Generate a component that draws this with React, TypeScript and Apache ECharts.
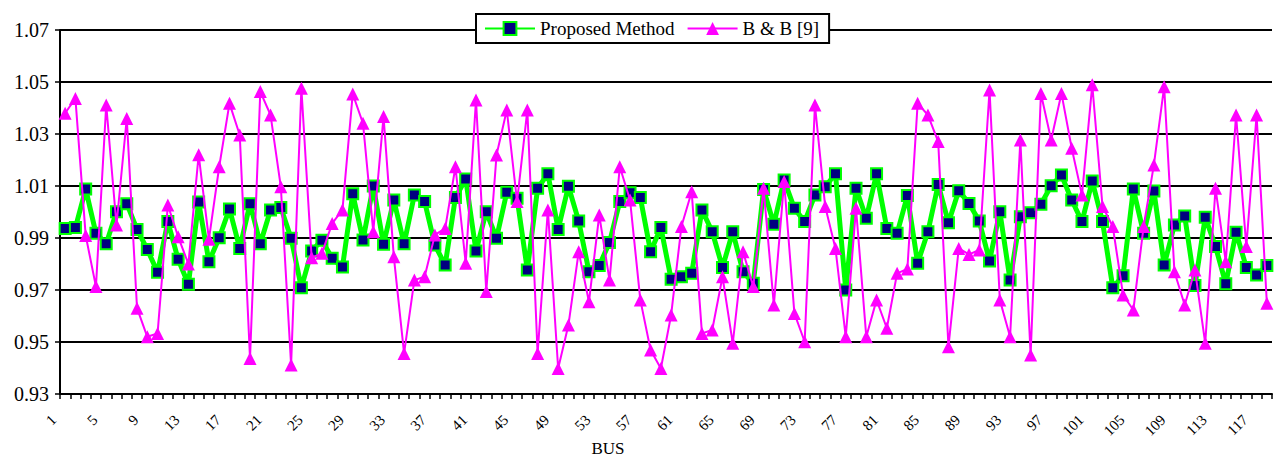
import React, { useEffect, useRef } from "react";
import * as echarts from "echarts";

const categories: string[] = Array.from({ length: 118 }, (_, i) => String(i + 1));

const proposed: number[] = [
  0.9937, 0.994, 1.0088, 0.9918, 0.9878, 1.0001, 1.0032, 0.9933, 0.9856, 0.9768,
  0.9963, 0.9818, 0.9722, 1.0038, 0.9809, 0.9901, 1.0012, 0.986, 1.0032, 0.9878,
  1.0008, 1.0017, 0.9899, 0.9709, 0.985, 0.9891, 0.9822, 0.9788, 1.007, 0.9892,
  1.01, 0.9876, 1.0046, 0.9878, 1.0065, 1.004, 0.9873, 0.9796, 1.0056, 1.0127,
  0.985, 1.0001, 0.9899, 1.0076, 1.0053, 0.9777, 1.0091, 1.0147, 0.9933, 1.0099,
  0.9965, 0.977, 0.9794, 0.9883, 1.004, 1.0074, 1.0056, 0.9847, 0.994, 0.9741,
  0.9751, 0.9764, 1.0008, 0.9924, 0.9787, 0.9924, 0.977, 0.9726, 1.0087, 0.9953,
  1.0123, 1.0014, 0.9963, 1.0065, 1.0097, 1.0147, 0.97, 1.0091, 0.9976, 1.0147,
  0.9937, 0.9918, 1.0063, 0.9803, 0.9924, 1.0106, 0.9959, 1.0082, 1.0033, 0.9965,
  0.9812, 1.0001, 0.9738, 0.9982, 0.9997, 1.003, 1.0101, 1.0142, 1.0046, 0.9963,
  1.0119, 0.9963, 0.9709, 0.9755, 1.0088, 0.9918, 1.0081, 0.9796, 0.995, 0.9985,
  0.9717, 0.998, 0.9867, 0.9724, 0.9922, 0.9787, 0.9758, 0.9794,
];

const bb9: number[] = [
  1.038, 1.0437, 0.991, 0.9713, 1.0412, 0.995, 1.036, 0.963, 0.952, 0.9533,
  1.0027, 0.9905, 0.98, 1.022, 0.9895, 1.0174, 1.0418, 1.0296, 0.9437, 1.0463,
  1.0373, 1.0097, 0.9412, 1.0476, 0.9824, 0.9841, 0.9956, 1.0008, 1.0454, 1.0341,
  0.9924, 1.0367, 0.9828, 0.9456, 0.9738, 0.9751, 0.9912, 0.9937, 1.0174, 0.9803,
  1.0431, 0.9694, 1.0219, 1.0392, 1.004, 1.0392, 0.9456, 1.0008, 0.9398, 0.9565,
  0.9847, 0.9655, 0.9988, 0.9738, 1.0174, 1.0046, 0.9662, 0.9469, 0.9398, 0.9604,
  0.9944, 1.0078, 0.9533, 0.9546, 0.9751, 0.9495, 0.9847, 0.9713, 1.0091, 0.9642,
  1.0117, 0.961, 0.9501, 1.0412, 1.0021, 0.986, 0.952, 1.0014, 0.952, 0.9662,
  0.9553, 0.9764, 0.9781, 1.0418, 1.0373, 1.0271, 0.9482, 0.986, 0.9837, 0.9854,
  1.0469, 0.9662, 0.952, 1.0277, 0.945, 1.0456, 1.0277, 1.0456, 1.0245, 1.0065,
  1.0489, 1.0021, 0.9944, 0.9681, 0.9623, 0.9944, 1.0181, 1.0482, 0.977, 0.9642,
  0.9777, 0.9495, 1.0091, 0.9809, 1.0373, 0.9867, 1.0373, 0.9649,
];

const seriesNames = ["Proposed Method", "B & B [9]"];
const xAxisTitle = "BUS";

const FONT = "'Liberation Serif', 'Times New Roman', serif";

export default function App() {
  const ref = useRef<HTMLDivElement>(null);

  useEffect(() => {
    if (!ref.current) return;
    const chart = echarts.init(ref.current, undefined, { renderer: "svg" });
    chart.setOption({
      animation: false,
      backgroundColor: "#fff",
      textStyle: { fontFamily: FONT, color: "#000" },
      grid: {
        left: 60,
        right: 2,
        top: 30,
        bottom: 63,
        containLabel: false,
        outerBoundsMode: "none",
      },
      legend: {
        left: 476,
        top: 14,
        padding: [5, 10, 5, 8],
        itemGap: 12,
        itemWidth: 50,
        itemHeight: 16,
        borderColor: "#000",
        borderWidth: 2,
        backgroundColor: "#fff",
        textStyle: { fontFamily: FONT, fontSize: 19, color: "#000" },
        data: seriesNames,
      },
      xAxis: {
        type: "category",
        data: categories,
        boundaryGap: true,
        name: xAxisTitle,
        nameLocation: "middle",
        nameGap: 46,
        nameMoveOverlap: false,
        nameTextStyle: {
          fontFamily: FONT,
          fontSize: 17,
          color: "#000",
          verticalAlign: "top",
          padding: [0, 116, 0, 0],
        },
        axisLine: { show: true, lineStyle: { color: "#000", width: 2 } },
        axisTick: { show: true, interval: 0, length: 5, lineStyle: { color: "#000", width: 1.5 } },
        axisLabel: {
          interval: 3,
          rotate: 45,
          fontFamily: FONT,
          fontSize: 15,
          color: "#000",
          margin: 12,
          padding: [0, 16, 0, 0],
        },
        splitLine: { show: false },
      },
      yAxis: {
        type: "value",
        min: 0.93,
        max: 1.07,
        interval: 0.02,
        axisLine: { show: true, lineStyle: { color: "#000", width: 2 } },
        axisTick: { show: true, length: 5, lineStyle: { color: "#000", width: 1.5 } },
        axisLabel: {
          fontFamily: FONT,
          fontSize: 20,
          color: "#000",
          margin: 11,
          formatter: (v: number) => v.toFixed(2),
        },
        splitLine: { show: true, lineStyle: { color: "#000", width: 2 } },
      },
      series: [
        {
          name: seriesNames[0],
          type: "line",
          data: proposed,
          symbol: "rect",
          symbolSize: 11,
          showAllSymbol: true,
          lineStyle: { color: "#00FF00", width: 5 },
          itemStyle: { color: "#000080", borderColor: "#00FF00", borderWidth: 2 },
          z: 2,
        },
        {
          name: seriesNames[1],
          type: "line",
          data: bb9,
          symbol: "triangle",
          symbolSize: 13,
          showAllSymbol: true,
          lineStyle: { color: "#FF00FF", width: 2 },
          itemStyle: { color: "#FF00FF" },
          z: 3,
        },
      ],
    });
    return () => chart.dispose();
  }, []);

  return (
    <div
      ref={ref}
      style={{ position: "fixed", left: 0, top: 0, width: 1274, height: 457 }}
    />
  );
}
